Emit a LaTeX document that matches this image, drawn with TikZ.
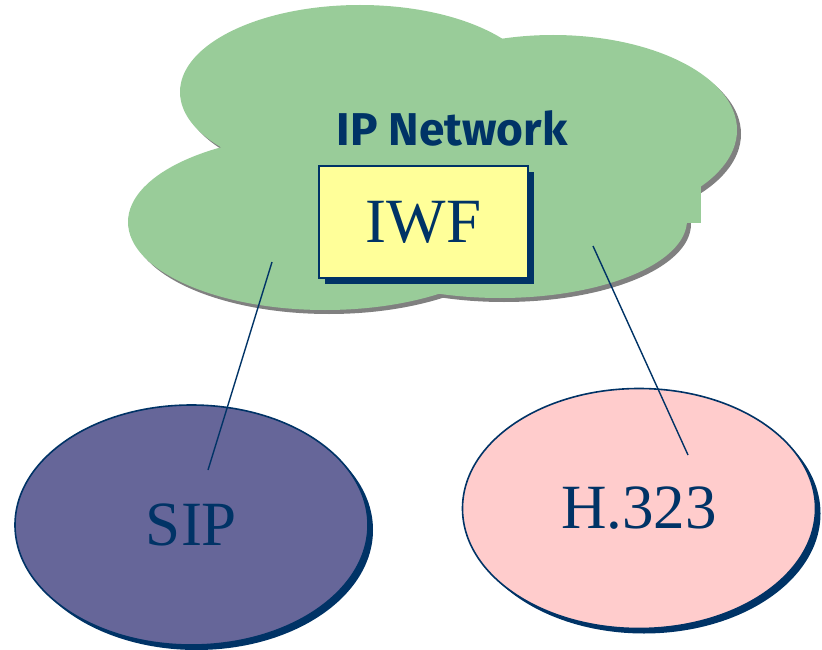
\documentclass[tikz,border=0pt]{standalone}
\usepackage{fontspec}
\setmainfont{Liberation Serif}
\newfontfamily\cloudfont{Fira Sans}
\usetikzlibrary{shapes.geometric,shadows}

\definecolor{navy}{HTML}{003366}
\definecolor{cloudgreen}{HTML}{99CC99}
\definecolor{cloudshade}{HTML}{808080}
\definecolor{sipfill}{HTML}{666699}
\definecolor{hfill}{HTML}{FFCCCC}
\definecolor{boxfill}{HTML}{FFFF99}

\tikzset{
  bigtext/.style={font=\fontsize{63}{68}\selectfont, text=navy},
  protocol/.style={ellipse, draw=navy, line width=1.6pt, inner sep=0pt,
    minimum width=353pt, minimum height=240pt, bigtext,
    drop shadow={shadow xshift=5pt, shadow yshift=-5pt, fill=navy, opacity=1}},
  iwfbox/.style={rectangle, draw=navy, line width=1.4pt, fill=boxfill, inner sep=0pt,
    minimum width=209pt, minimum height=112pt, bigtext,
    drop shadow={shadow xshift=6pt, shadow yshift=-6pt, fill=navy, opacity=1}},
  link/.style={draw=navy, line width=1.4pt},
}

\begin{document}
\begin{tikzpicture}[x=1pt,y=-1pt]
\useasboundingbox (0,0) rectangle (822,650);

% cloud: shadow first, then the green lobes
\begin{scope}[shift={(4,4)}]
  \fill[cloudshade] (360,92) ellipse [x radius=180pt, y radius=87pt];
  \fill[cloudshade] (553,130) ellipse [x radius=184pt, y radius=95pt];
  \fill[cloudshade] (325,222) ellipse [x radius=197pt, y radius=88pt];
  \fill[cloudshade] (500,220) ellipse [x radius=187pt, y radius=78pt];
\end{scope}
\fill[cloudgreen] (360,92) ellipse [x radius=180pt, y radius=87pt];
\fill[cloudgreen] (553,130) ellipse [x radius=184pt, y radius=95pt];
\fill[cloudgreen] (325,222) ellipse [x radius=197pt, y radius=88pt];
\fill[cloudgreen] (500,220) ellipse [x radius=187pt, y radius=78pt];
\fill[cloudgreen] (600,172) rectangle (701,223);

\node[text=navy, font=\cloudfont\bfseries\fontsize{46}{50}\selectfont] (net) at (452,128) {IP Network};

\node[iwfbox] (iwf) at (423.5,222) {IWF};

\node[protocol, fill=sipfill] (sip) at (191.5,525) {SIP};
\node[protocol, fill=hfill] (h323) at (639,508.5) {H.323};

% links between the cloud and the two protocol domains
\coordinate (sipend) at (208,470);
\coordinate (sipcloud) at (272,262);
\coordinate (hend) at (688,455);
\coordinate (hcloud) at (593,246);
\draw[link] (sipcloud) -- (sipend);
\draw[link] (hcloud) -- (hend);
\end{tikzpicture}
\end{document}
